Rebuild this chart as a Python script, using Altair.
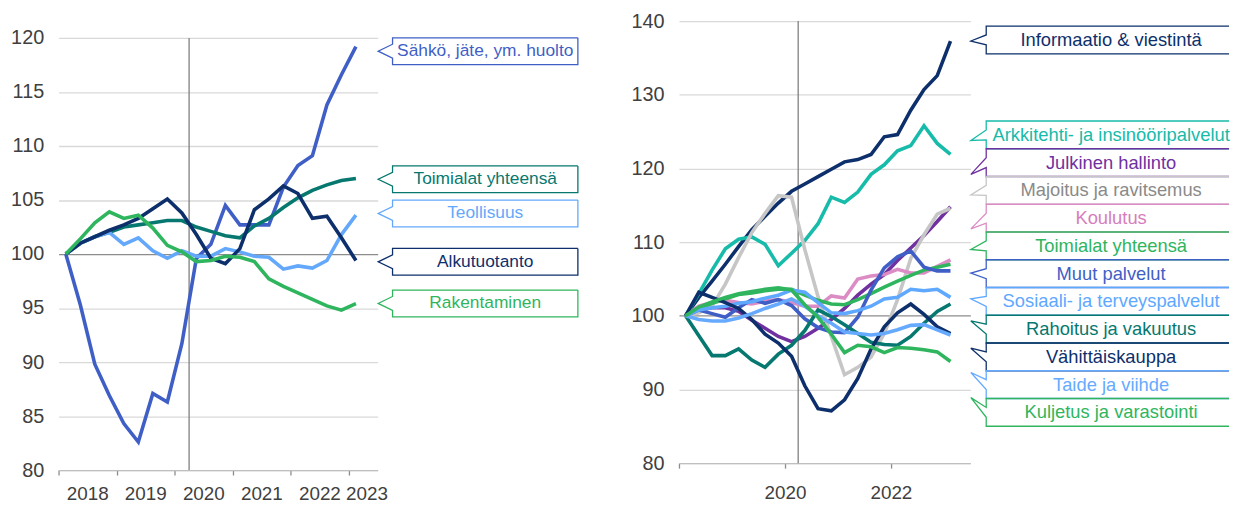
import altair as alt
import pandas as pd

# ---------------- data ----------------
quarters = [f"{y}Q{q}" for y in range(2018, 2024) for q in range(1, 5)][:21]

left_names = ["Sähkö, jäte, ym. huolto", "Toimialat yhteensä", "Teollisuus",
              "Alkutuotanto", "Rakentaminen"]
sahko = [100, 95.3, 89.8, 86.9, 84.3, 82.6, 87.1, 86.3, 91.7, 99.6, 100.9,
         104.5, 102.7, 102.7, 102.7, 106.2, 108.2, 109.1, 113.8, 116.6, 119.2]
toimialat_l = [100, 101.0, 101.6, 102.0, 102.5, 102.7, 102.9, 103.1, 103.1, 102.5,
               102.1, 101.7, 101.5, 102.6, 103.3, 104.3, 105.2, 105.9, 106.4, 106.8, 107.0]
teollisuus = [100, 101.0, 101.6, 102.0, 100.9, 101.5, 100.3, 99.6, 100.3, 99.8,
              99.8, 100.5, 100.2, 99.8, 99.7, 98.6, 98.9, 98.7, 99.4, 101.8, 103.6]
alkutuotanto = [100, 101.0, 101.6, 102.2, 102.7, 103.3, 104.2, 105.1, 103.8, 101.8,
                99.6, 99.1, 100.5, 104.1, 105.1, 106.3, 105.6, 103.3, 103.5, 101.5, 99.4]
rakentaminen = [100, 101.4, 102.9, 103.9, 103.3, 103.6, 102.4, 100.8, 100.2, 99.3,
                99.4, 99.8, 99.7, 99.3, 97.7, 97.0, 96.4, 95.8, 95.2, 94.8, 95.4]
left_values = [sahko, toimialat_l, teollisuus, alkutuotanto, rakentaminen]

right_names = ["Informaatio & viestintä", "Arkkitehti- ja insinööripalvelut",
               "Julkinen hallinto", "Majoitus ja ravitsemus", "Koulutus",
               "Toimialat yhteensä", "Muut palvelut", "Sosiaali- ja terveyspalvelut",
               "Rahoitus ja vakuutus", "Vähittäiskauppa", "Taide ja viihde",
               "Kuljetus ja varastointi"]
informaatio = [100, 102.5, 104.7, 107.0, 109.4, 111.7, 113.5, 115.3, 116.9, 117.9, 118.9,
               119.9, 120.9, 121.2, 121.9, 124.3, 124.6, 127.9, 130.7, 132.6, 137.3]
arkkitehti = [100, 103.0, 106.2, 109.1, 110.4, 110.7, 109.7, 106.8, 108.5, 110.2, 112.5,
              116.1, 115.4, 116.8, 119.2, 120.5, 122.4, 123.1, 125.8, 123.4, 121.9]
julkinen = [100, 100.8, 101.1, 101.1, 100.6, 99.4, 98.3, 97.2, 96.5, 97.2, 98.3,
            99.5, 101.0, 102.8, 104.3, 105.6, 107.5, 109.2, 110.9, 112.8, 114.8]
majoitus = [100, 100.4, 101.3, 104.3, 107.9, 111.3, 113.9, 116.3, 116.1, 109.0, 102.6,
            97.2, 92.0, 93.0, 94.4, 97.6, 102.2, 107.8, 111.0, 113.8, 114.6]
koulutus = [100, 101.3, 101.8, 102.1, 101.8, 101.6, 102.0, 102.2, 101.8, 101.3, 101.3,
            102.7, 102.4, 105.0, 105.4, 105.6, 106.3, 105.8, 105.8, 106.7, 107.6]
toimialat_r = [100, 101.0, 101.7, 102.3, 102.9, 103.1, 103.4, 103.6, 103.6, 102.8, 102.1,
               101.6, 101.5, 102.2, 103.0, 103.9, 104.7, 105.5, 106.2, 106.6, 107.0]
muut = [100, 100.8, 100.3, 99.8, 101.1, 102.2, 101.7, 102.2, 101.4, 99.6, 98.4,
        97.8, 97.7, 99.8, 103.5, 106.5, 108.0, 108.8, 106.6, 106.1, 106.1]
sosiaali = [100, 100.8, 101.1, 101.3, 101.7, 101.9, 102.4, 102.8, 103.5, 103.2, 101.8,
            100.4, 100.3, 100.7, 101.3, 102.3, 102.5, 103.6, 103.4, 103.6, 102.5]
rahoitus = [100, 97.3, 94.6, 94.6, 95.5, 94.0, 93.0, 94.8, 96.0, 98.0, 100.8,
            99.9, 98.8, 97.6, 96.4, 96.1, 96.0, 97.2, 99.0, 100.6, 101.6]
vahittais = [100, 103.2, 102.5, 101.8, 101.0, 99.5, 97.5, 96.3, 94.5, 90.5, 87.4,
             87.1, 88.6, 91.5, 95.5, 98.5, 100.4, 101.6, 100.2, 98.5, 97.6]
taide = [100, 99.5, 99.3, 99.3, 99.7, 100.3, 101.0, 101.6, 102.3, 101.3, 100.0,
         99.0, 97.8, 97.6, 97.4, 97.6, 98.1, 98.7, 98.8, 98.1, 97.4]
kuljetus = [100, 101.2, 101.9, 102.5, 103.0, 103.3, 103.6, 103.8, 103.5, 101.5, 99.8,
            97.5, 95.0, 96.0, 95.8, 95.0, 95.7, 95.6, 95.4, 95.1, 93.8]
right_values = [informaatio, arkkitehti, julkinen, majoitus, koulutus, toimialat_r,
                muut, sosiaali, rahoitus, vahittais, taide, kuljetus]

x_ticks_left = [2018, 2019, 2020, 2021, 2022, 2023]
x_ticks_right = [2018, 2020, 2022]
y_ticks_left = [80, 85, 90, 95, 100, 105, 110, 115, 120]
y_ticks_right = [80, 90, 100, 110, 120, 130, 140]
covid_marker = 2020.25  # end of 2020Q1

# annotation (callout) anchor positions, in data units
left_label_y = [118.78, 106.92, 103.76, 99.28, 95.43]
right_tip_y = [137.3, 123.8, 119.2, 116.4, 111.8, 109.0, 105.8, 102.3, 99.3, 95.6, 92.3, 88.9]

# ---------------- styles / layout ----------------
FONT = "Liberation Sans"
left_colors = ["#3f5fc6", "#06786f", "#64a8fb", "#0d2f6b", "#2fb55e"]
right_colors = ["#0d2f6b", "#17bba9", "#7030a0", "#c6c6c6", "#dc8cc5", "#2fb55e",
                "#3f5fc6", "#5ea8ff", "#06786f", "#0d2f6b", "#66aaff", "#2fb55e"]
right_text_colors = ["#0d2f6b", "#17bba9", "#7030a0", "#8a8a8a", "#d67dbd", "#2fb55e",
                     "#3f5fc6", "#5ea8ff", "#06786f", "#0d2f6b", "#66aaff", "#2fb55e"]

X_DOM = [2018, 2023.5]
L_W, L_H = 322, 453
R_W, R_H = 294, 446
L_PPU = 436 / 40.0            # px per index point, left (120 -> 80 gridlines)
L_YDOM = [80, 80 + L_H / L_PPU]
R_YDOM = [80, 140]
R_PPU = R_H / 60.0
L_PPY = L_W / (X_DOM[1] - X_DOM[0])
R_PPY = R_W / (X_DOM[1] - X_DOM[0])

right_label_y = [137.45] + [124.56 - i * 28 / R_PPU for i in range(11)]


def to_long(names, values, colors):
    rows = []
    for n, vals, c in zip(names, values, colors):
        for q, v in zip(quarters, vals):
            yr, qn = int(q[:4]), int(q[-1])
            rows.append({"name": n, "x": yr + (qn - 1) / 4 + 0.125, "y": v, "c": c})
    return pd.DataFrame(rows)


def callouts(names, centers, tips, colors, ppu, ppy, left_px, right_px, half_px, base_px, closed):
    rows = []
    end = X_DOM[1]
    xl = end + left_px / ppy
    xr = end + right_px / ppy
    xt = end + 0.5 / ppy
    for n, cy, tp, c in zip(names, centers, tips, colors):
        top, bot = cy + half_px / ppu, cy - half_px / ppu
        b1, b2 = cy + base_px / ppu, cy - base_px / ppu
        pts = [(xr, top), (xl, top), (xl, b1), (xt, tp), (xl, b2), (xl, bot), (xr, bot)]
        if closed:
            pts.append((xr, top))
        for i, (px, py) in enumerate(pts):
            rows.append({"name": n, "o": i, "x": px, "y": py, "c": c})
    return pd.DataFrame(rows)


def texts(names, centers, colors, ppy, center_px):
    return pd.DataFrame({"name": names, "x": [X_DOM[1] + center_px / ppy] * len(names),
                         "y": centers, "c": colors})


grid_color = {"condition": {"test": "datum.value === 100", "value": "#8c8c8c"},
              "value": "#d9d9d9"}


def panel(df_lines, df_boxes, df_text, ydom, yvals, xaxis, width, height, rule_top, text_size):
    x_enc = alt.X("x:Q", scale=alt.Scale(domain=X_DOM, nice=False, zero=False), axis=xaxis)
    y_enc = alt.Y("y:Q", scale=alt.Scale(domain=ydom, nice=False, zero=False),
                  axis=alt.Axis(values=yvals, grid=True, gridColor=grid_color, gridWidth=1.3,
                                domain=False, ticks=False, labelPadding=15, labelFontSize=20,
                                labelColor="#404040", labelFont=FONT, title=None))
    rule_df = pd.DataFrame({"x": [covid_marker], "y": [80], "y2": [rule_top]})
    rule = alt.Chart(rule_df).mark_rule(color="#7f7f7f", strokeWidth=1.3).encode(
        x=x_enc, y=y_enc, y2="y2:Q")
    lines = alt.Chart(df_lines).mark_line(strokeWidth=3.6).encode(
        x=x_enc, y=y_enc, color=alt.Color("c:N", scale=None), detail="name:N")
    boxes = alt.Chart(df_boxes).mark_line(strokeWidth=1.3).encode(
        x=x_enc, y=y_enc, color=alt.Color("c:N", scale=None), detail="name:N",
        order=alt.Order("o:Q"))
    labels = alt.Chart(df_text).mark_text(fontSize=text_size, font=FONT, align="center",
                                          baseline="middle").encode(
        x=x_enc, y=y_enc, text="name:N", color=alt.Color("c:N", scale=None))
    return alt.layer(rule, lines, boxes, labels).properties(width=width, height=height)


def x_axis(values, pad, **extra):
    return alt.Axis(values=values, format="d", grid=False, domainColor="#bfbfbf",
                    domainWidth=1.3, tickColor="#8c8c8c", tickSize=5, tickWidth=1.3,
                    labelPadding=pad, labelFontSize=19, labelColor="#404040", labelFont=FONT,
                    labelFlush=False, labelOverlap=False, title=None, **extra)


left_xaxis = x_axis(x_ticks_left, 10,
                    labelOffset={"condition": {"test": "datum.value == 2023", "value": 18},
                                 "value": 29})
right_xaxis = x_axis(x_ticks_right, 16,
                     labelExpr="datum.value == 2018 ? '' : datum.label")

left = panel(
    to_long(left_names, left_values, left_colors),
    callouts(left_names, left_label_y, left_label_y, left_colors, L_PPU, L_PPY,
             15, 202, 13.5, 7, True),
    texts(left_names, left_label_y, left_colors, L_PPY, 108.5),
    L_YDOM, y_ticks_left, left_xaxis, L_W, L_H, 120, 17.5)

right = panel(
    to_long(right_names, right_values, right_colors),
    callouts(right_names, right_label_y, right_tip_y, right_colors, R_PPU, R_PPY,
             16, 261, 14, 5, False),
    texts(right_names, right_label_y, right_text_colors, R_PPY, 142),
    R_YDOM, y_ticks_right, right_xaxis, R_W, R_H, 140, 18.5)

chart = alt.hconcat(left, right, spacing=304, bounds="flush").resolve_scale(
    x="independent", y="independent").properties(
    padding={"left": 2, "top": 0, "right": 0, "bottom": 0}).configure(
    font=FONT, view=alt.ViewConfig(stroke="transparent"))

chart.save("out.html", embed_options={"renderer": "svg", "actions": False})
